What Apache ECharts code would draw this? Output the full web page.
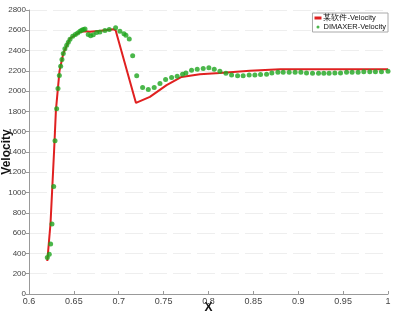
<!DOCTYPE html>
<html><head><meta charset="utf-8">
<script src="https://cdn.jsdelivr.net/npm/echarts@6/dist/echarts.min.js"></script>
<style>html,body{margin:0;padding:0;background:#fff}#c{width:400px;height:315px}</style>
</head><body><div id="c"></div>
<script>
const seriesNames = ['某软件-Velocity', 'DIMAXER-Velocity'];
const redX = [0.6204, 0.624, 0.628, 0.630, 0.634, 0.6382, 0.6457, 0.6568, 0.662, 0.668, 0.680, 0.694, 0.6965, 0.7192, 0.7347, 0.7533, 0.770, 0.7904, 0.8127, 0.846, 0.88, 0.93, 1.0];
const redY = [325, 700, 1420, 1813, 2200, 2371, 2519, 2584, 2590, 2585, 2595, 2611, 2600, 1884, 1944, 2059, 2140, 2167, 2180, 2200, 2215, 2217, 2217];
const greenX = [0.6204, 0.6226, 0.6241, 0.6256, 0.6275, 0.629, 0.6308, 0.6323, 0.6338, 0.6353, 0.6367, 0.6382, 0.640, 0.642, 0.6438, 0.6457, 0.6487, 0.6516, 0.6542, 0.6568, 0.6587, 0.6605, 0.6624, 0.666, 0.6687, 0.6716, 0.6754, 0.679, 0.6846, 0.6894, 0.6965, 0.7013, 0.7058, 0.708, 0.7117, 0.7155, 0.720, 0.7266, 0.7329, 0.7395, 0.7459, 0.7522, 0.7589, 0.7651, 0.7711, 0.7748, 0.7811, 0.7874, 0.7941, 0.8004, 0.8064, 0.8127, 0.8194, 0.8257, 0.8324, 0.8386, 0.8453, 0.8517, 0.858, 0.8647, 0.8706, 0.8773, 0.8832, 0.8899, 0.8965, 0.9029, 0.9092, 0.9159, 0.9226, 0.9285, 0.9344, 0.9408, 0.9471, 0.9538, 0.960, 0.9667, 0.973, 0.9797, 0.986, 0.9927, 1.0];
const greenY = [361, 391, 492, 690, 1061, 1510, 1826, 2026, 2155, 2246, 2312, 2371, 2417, 2453, 2483, 2512, 2542, 2558, 2574, 2591, 2601, 2608, 2612, 2558, 2545, 2555, 2578, 2584, 2598, 2608, 2624, 2591, 2565, 2552, 2515, 2348, 2151, 2036, 2017, 2036, 2076, 2115, 2135, 2148, 2167, 2180, 2207, 2217, 2224, 2230, 2217, 2197, 2177, 2160, 2151, 2151, 2160, 2160, 2164, 2167, 2180, 2187, 2187, 2187, 2187, 2187, 2180, 2177, 2177, 2177, 2177, 2180, 2180, 2187, 2187, 2187, 2190, 2190, 2190, 2190, 2197];
const xTicks = {min: 0.6, max: 1, interval: 0.05};
const yTicks = {min: 0, max: 2800, interval: 200};

const zip = (a, b) => a.map((v, i) => [v, b[i]]);
const chart = echarts.init(document.getElementById('c'), null, {renderer: 'canvas'});
const font = 'Liberation Sans, Arial, sans-serif';
chart.setOption({
  animation: false,
  backgroundColor: '#fff',
  grid: {left: 29, right: 12, top: 10, bottom: 21, containLabel: false, outerBoundsMode: 'none'},
  legend: {
    right: 12, top: 13, orient: 'vertical', itemGap: 1,
    itemWidth: 7, itemHeight: 3,
    borderColor: '#aaa', borderWidth: 1, borderRadius: 0, padding: [1, 2, 1, 2],
    backgroundColor: '#fff',
    textStyle: {fontSize: 7.5, color: '#111', fontFamily: font, padding: [0, 0, 0, -3]},
    data: [
      {name: seriesNames[0], icon: 'rect', itemStyle: {color: '#e02020'}},
      {name: seriesNames[1], icon: 'circle', itemStyle: {color: '#1ea51e'}}
    ]
  },
  xAxis: {
    type: 'value', min: xTicks.min, max: xTicks.max, interval: xTicks.interval,
    name: 'X', nameLocation: 'middle', nameGap: 8, nameMoveOverlap: false,
    nameTextStyle: {fontSize: 12, fontWeight: 'bold', color: '#111', fontFamily: font},
    axisLine: {lineStyle: {color: '#999', width: 1}},
    axisTick: {show: true, inside: true, length: 3, lineStyle: {color: '#999'}},
    axisLabel: {fontSize: 9, color: '#444', fontFamily: font, margin: 3,
      formatter: v => String(Math.round(v * 100) / 100)},
    splitLine: {show: false}
  },
  yAxis: {
    type: 'value', min: yTicks.min, max: yTicks.max, interval: yTicks.interval,
    name: 'Velocity', nameLocation: 'middle', nameGap: 16, nameRotate: 90, nameMoveOverlap: false,
    nameTextStyle: {fontSize: 12, fontWeight: 'bold', color: '#111', fontFamily: font},
    axisLine: {show: true, lineStyle: {color: '#999', width: 1}},
    axisTick: {show: true, length: 3, lineStyle: {color: '#999'}},
    axisLabel: {fontSize: 8, color: '#444', fontFamily: font, margin: 3,
      formatter: v => String(v)},
    splitLine: {show: true, lineStyle: {color: '#eee', type: [18, 6], width: 1}}
  },
  series: [
    {
      name: seriesNames[0], type: 'line', data: zip(redX, redY),
      showSymbol: false, symbol: 'none',
      lineStyle: {color: '#e02020', width: 2}, itemStyle: {color: '#e02020'}, z: 2
    },
    {
      name: seriesNames[1], type: 'scatter', data: zip(greenX, greenY),
      symbol: 'circle', symbolSize: 5,
      itemStyle: {color: '#1ea51e'}, z: 3
    }
  ]
});
</script></body></html>
